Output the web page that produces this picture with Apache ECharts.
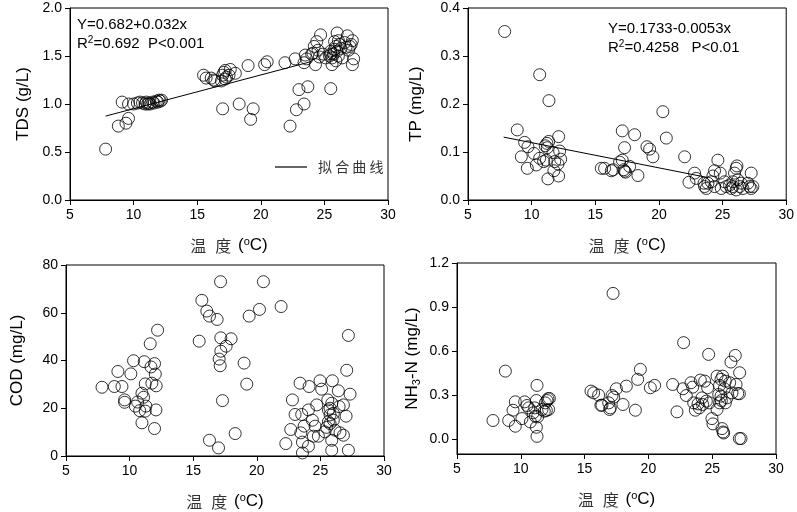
<!DOCTYPE html>
<html>
<head>
<meta charset="utf-8">
<script src="https://cdn.jsdelivr.net/npm/echarts@6/dist/echarts.min.js"></script>
<style>
  html, body { margin: 0; padding: 0; background: #fff; }
  #main { width: 797px; height: 512px; }
</style>
</head>
<body>
<div id="main"></div>
<script>
    // 温度 vs TDS (g/L)
    var tdsPoints = [
        [7.8,0.53],[8.8,0.77],[9.1,1.02],[9.4,0.80],[9.6,0.85],[9.6,1.00],[10.0,1.00],[10.3,1.01],
        [10.5,1.02],[10.7,1.01],[10.9,1.00],[11.0,1.02],[11.1,1.00],[11.2,1.01],[11.3,1.00],[11.5,1.02],
        [11.6,1.01],[11.8,1.03],[11.9,1.02],[12.0,1.04],[12.1,1.03],[12.2,1.04],
        [15.5,1.30],[15.7,1.27],[16.1,1.27],[16.3,1.25],[16.4,1.24],[16.9,1.24],[17.0,1.30],[17.1,1.33],
        [17.2,1.35],[17.2,1.26],[17.3,1.28],[17.5,1.30],[17.6,1.36],[18.0,1.32],[17.0,0.95],[18.3,1.00],
        [19.0,1.40],[19.2,0.84],[19.4,0.95],[20.3,1.41],[20.5,1.44],[21.9,1.43],[22.3,0.77],[22.7,1.47],
        [22.8,0.94],[23.0,1.15],[23.4,1.00],[23.7,1.18],
        [23.4,1.43],[23.5,1.51],[23.6,1.47],[24.0,1.52],[24.1,1.53],[24.2,1.60],[24.3,1.41],[24.4,1.65],
        [24.5,1.56],[24.6,1.49],[24.7,1.72],[24.9,1.52],[25.1,1.48],[25.5,1.16],
        [25.4,1.50],[25.5,1.55],[25.5,1.52],[25.6,1.41],[25.6,1.48],[25.7,1.52],[25.8,1.57],[25.8,1.65],
        [25.9,1.60],[25.9,1.45],[26.0,1.74],[26.0,1.55],[26.1,1.50],[26.1,1.66],[26.2,1.62],[26.3,1.58],
        [26.4,1.48],[26.6,1.64],[26.7,1.59],[26.8,1.71],[26.9,1.56],[27.0,1.60],[27.1,1.62],[27.2,1.66],
        [27.2,1.41],[27.3,1.47]
    ];
    var tdsFit = [[7.8,0.874],[24.0,1.443]];

    // 温度 vs TP (mg/L)
    var tpPoints = [
        [7.88,0.351],[8.87,0.146],[9.45,0.120],[9.19,0.090],[9.71,0.111],[9.66,0.066],[10.18,0.097],[10.37,0.073],
        [10.63,0.261],[10.63,0.087],[10.94,0.080],[11.07,0.113],[11.23,0.109],[11.34,0.122],[11.36,0.207],[11.28,0.044],
        [11.15,0.083],[11.68,0.099],[11.81,0.080],[11.75,0.061],[12.12,0.132],[12.2,0.102],[12.12,0.050],[12.28,0.085],
        [12.07,0.075],[11.2,0.118],
        [15.47,0.066],[15.73,0.066],[16.26,0.061],[16.41,0.063],[17.12,0.144],[17.30,0.109],[16.91,0.079],[17.12,0.083],
        [17.23,0.063],[17.38,0.058],[17.70,0.070],[17.3,0.060],[18.09,0.136],[18.35,0.051],[19.06,0.111],[19.27,0.106],
        [19.53,0.090],[20.31,0.184],[20.58,0.129],[22.02,0.090],[22.36,0.037],[22.80,0.056],[22.93,0.045],
        [23.59,0.028],[23.72,0.024],[23.85,0.035],[24.37,0.061],[24.24,0.050],[24.11,0.038],[24.63,0.083],[24.37,0.028],
        [24.82,0.056],[24.9,0.024],[25.16,0.038],[25.55,0.031],[25.68,0.024],[25.81,0.038],[25.94,0.056],[26.07,0.066],
        [26.13,0.071],[26.07,0.021],[26.34,0.028],[26.47,0.035],[26.6,0.024],[26.99,0.035],[27.12,0.028],[27.25,0.056],
        [27.25,0.024],[27.38,0.028],[23.54,0.035],[25.29,0.028],[25.81,0.028],[26.2,0.042]
    ];
    var tpFit = [[7.8,0.131],[23.8,0.047]];

    // 温度 vs COD (mg/L)
    var codPoints = [
        [7.83,28.8],[8.80,29.1],[9.08,35.4],[9.40,29.1],[9.61,23.5],[9.61,22.5],[10.10,34.4],[10.31,39.9],
        [10.45,20.9],[10.63,22.6],[10.79,19.0],[10.97,26.3],[10.97,13.9],[11.10,24.6],[11.15,39.5],[11.23,30.2],
        [11.28,20.9],[11.23,18.8],[11.62,47.0],[11.68,37.3],[11.75,30.5],[11.96,38.7],[12.02,34.3],[12.09,29.4],
        [12.07,19.3],[11.96,11.5],[12.2,52.7],
        [15.47,48.1],[15.68,65.2],[16.07,60.7],[16.28,58.6],[16.88,57.2],[16.28,6.6],[16.99,3.4],[17.15,73.0],
        [17.17,49.5],[17.17,43.9],[17.04,40.6],[17.12,37.8],[17.30,23.2],[17.59,46.0],[17.98,49.1],[18.30,9.4],
        [19.0,38.9],[19.21,30.1],[19.40,58.6],[20.21,61.4],[20.52,73.0],[21.91,62.6],
        [22.28,5.2],[22.67,11.1],[22.80,23.5],[23.01,17.4],[23.40,30.5],[23.46,9.7],[23.53,17.4],[23.59,5.8],
        [23.59,1.3],[23.72,12.5],[24.06,4.1],[24.06,19.3],[24.11,29.1],[24.37,15.0],[24.45,8.3],[24.58,12.5],
        [24.71,21.4],[24.84,8.3],[24.97,31.5],[25.10,28.0],[25.36,10.1],[25.50,12.0],[25.58,23.5],[25.63,19.3],
        [25.76,17.2],[25.76,20.0],[25.76,13.6],[25.89,2.4],[25.89,6.6],[25.94,31.5],[26.02,17.9],[26.02,15.0],
        [26.15,10.8],[26.41,27.3],[26.47,20.7],[26.54,9.7],[26.81,21.4],[26.81,8.7],[27.02,16.7],[27.07,35.9],
        [27.2,50.5],[27.2,2.4],[27.33,25.9],[25.63,14.3],[25.89,22.1]
    ];

    // 温度 vs NH3-N (mg/L)
    var nhPoints = [
        [7.82,0.128],[8.79,0.464],[9.05,0.128],[9.39,0.198],[9.57,0.255],[9.57,0.089],[10.09,0.141],[10.30,0.255],
        [10.49,0.230],[10.62,0.214],[10.75,0.118],[10.96,0.180],[11.09,0.214],[11.14,0.157],[11.22,0.264],[11.27,0.367],
        [11.22,0.082],[11.27,0.020],[11.32,0.153],[11.66,0.203],[11.92,0.248],[12.0,0.196],[12.13,0.276],[12.05,0.264],
        [12.18,0.203],[12.24,0.278],[11.84,0.191],
        [15.50,0.328],[15.71,0.316],[16.10,0.301],[16.28,0.232],[16.36,0.232],[16.89,0.248],[16.96,0.203],[17.02,0.214],
        [17.15,0.298],[17.23,0.993],[17.28,0.287],[17.49,0.344],[18.01,0.237],[18.27,0.362],[18.98,0.198],[19.16,0.408],
        [19.37,0.476],[20.15,0.351],[20.49,0.367],
        [21.90,0.373],[22.24,0.187],[22.71,0.344],[22.76,0.658],[22.97,0.298],[23.34,0.385],[23.47,0.355],[23.55,0.248],
        [23.68,0.198],[23.89,0.241],[23.99,0.214],[24.07,0.403],[24.2,0.282],[24.25,0.237],[24.41,0.396],[24.54,0.260],
        [24.64,0.351],[24.72,0.578],[24.78,0.248],[24.98,0.141],[25.06,0.105],[25.38,0.203],[25.51,0.305],[25.58,0.367],
        [25.58,0.248],[25.69,0.408],[25.72,0.264],[25.77,0.073],[25.82,0.430],[25.85,0.050],[25.90,0.043],[25.95,0.344],
        [26.03,0.248],[26.03,0.396],[26.16,0.282],[26.37,0.385],[26.47,0.526],[26.55,0.316],[26.81,0.571],[26.87,0.373],
        [27.00,0.312],[27.13,0.310],[27.15,0.453],[27.13,0.005],[27.26,0.005],[25.38,0.430],[25.69,0.294]
    ];

    var nhTicks = [0, 0.3, 0.6, 0.9, 1.2];

    var numFont = 'Liberation Sans, Arial, sans-serif';
    var cnFont = 'Noto Sans CJK SC, sans-serif';

    var chart = echarts.init(document.getElementById('main'));

    // 网格位置
    var grids = [
        { left: 70, top: 8, width: 318, height: 192 },
        { left: 468, top: 8, width: 319, height: 192 },
        { left: 66, top: 265, width: 318, height: 191 },
        { left: 457, top: 263, width: 319, height: 191 }
    ];
    grids.forEach(function (g) {
        g.show = true;
        g.borderColor = '#000';
        g.borderWidth = 1;
        g.backgroundColor = 'transparent';
        g.containLabel = false;
    });

    var xName = '{cn1|温}{cn|度} ({sup|o}C)';
    var nameRich = {
        cn1: { fontFamily: cnFont, fontSize: 16, color: '#333', padding: [0, 9, 0, 0] },
        cn: { fontFamily: cnFont, fontSize: 16, color: '#333', padding: [0, 2, 0, 0] },
        sup: { fontFamily: numFont, fontSize: 11, verticalAlign: 'top', padding: [0, 0, 8, 0], color: '#000' },
        sub: { fontFamily: numFont, fontSize: 11, padding: [9, 0, 0, 0], color: '#000' }
    };

    function makeX(i) {
        return {
            type: 'value', gridIndex: i, min: 5, max: 30, interval: 5,
            name: xName, nameLocation: 'middle', nameGap: 36,
            nameTextStyle: { fontFamily: numFont, fontSize: 17, color: '#000', rich: nameRich },
            axisLine: { onZero: false, lineStyle: { color: '#000', width: 1 } },
            axisTick: { show: true, length: 5, lineStyle: { color: '#000' } },
            axisLabel: { fontFamily: numFont, fontSize: 14, color: '#000', margin: 8 },
            splitLine: { show: false }
        };
    }

    function makeY(i, min, max, interval, name, gap) {
        return {
            type: 'value', gridIndex: i, min: min, max: max, interval: interval,
            name: name, nameLocation: 'middle', nameRotate: 90, nameGap: gap,
            nameTextStyle: { fontFamily: numFont, fontSize: 17, color: '#000', rich: nameRich },
            axisLine: { show: true, onZero: false, lineStyle: { color: '#000', width: 1 } },
            axisTick: { show: true, length: 5, lineStyle: { color: '#000' } },
            axisLabel: {
                fontFamily: numFont, fontSize: 14, color: '#000', margin: 8,
                formatter: function (v) { return interval < 1 ? v.toFixed(1) : String(v); }
            },
            splitLine: { show: false }
        };
    }

    var yNh = makeY(3, -0.1, 1.2, 0.1, 'NH{sub|3}-N (mg/L)', 35);
    yNh.axisLabel.customValues = nhTicks;
    yNh.axisTick.customValues = nhTicks;

    function scatter(i, data) {
        return {
            type: 'scatter', xAxisIndex: i, yAxisIndex: i, data: data,
            symbol: 'circle', symbolSize: 12,
            itemStyle: { color: 'rgba(0,0,0,0)', borderColor: '#000', borderWidth: 1 },
            silent: true
        };
    }

    function fitLine(i, data, name) {
        return {
            type: 'line', name: name, xAxisIndex: i, yAxisIndex: i, data: data,
            symbol: 'none', lineStyle: { color: '#000', width: 1 }, itemStyle: { color: '#000' },
            silent: true, z: 1
        };
    }

    var option = {
        animation: false,
        backgroundColor: '#fff',
        grid: grids,
        xAxis: [makeX(0), makeX(1), makeX(2), makeX(3)],
        yAxis: [
            makeY(0, 0, 2, 0.5, 'TDS (g/L)', 38),
            makeY(1, 0, 0.4, 0.1, 'TP (mg/L)', 43),
            makeY(2, 0, 80, 20, 'COD (mg/L)', 40),
            yNh
        ],
        legend: {
            data: [{ name: '拟合曲线', icon: 'rect' }],
            left: 270, top: 155,
            itemWidth: 32, itemHeight: 1.2,
            itemStyle: { color: '#000' },
            textStyle: { fontFamily: cnFont, fontSize: 14, color: '#333', padding: [0, 0, 0, 6] },
            formatter: function () { return '拟 合 曲 线'; },
            selectedMode: false
        },
        graphic: [
            { type: 'text', left: 77, top: 17, style: { text: 'Y=0.682+0.032x', font: '15px Liberation Sans', fill: '#000' } },
            { type: 'text', left: 77, top: 35, style: {
                text: 'R{s|2}=0.692  P<0.001', font: '15px Liberation Sans', fill: '#000',
                rich: { s: { fontSize: 10, verticalAlign: 'top', padding: [0, 0, 7, 0], fontFamily: 'Liberation Sans' } }
            } },
            { type: 'text', left: 608, top: 21, style: { text: 'Y=0.1733-0.0053x', font: '15px Liberation Sans', fill: '#000' } },
            { type: 'text', left: 608, top: 39, style: {
                text: 'R{s|2}=0.4258   P<0.01', font: '15px Liberation Sans', fill: '#000',
                rich: { s: { fontSize: 10, verticalAlign: 'top', padding: [0, 0, 7, 0], fontFamily: 'Liberation Sans' } }
            } }
        ],
        series: [
            scatter(0, tdsPoints),
            fitLine(0, tdsFit, '拟合曲线'),
            scatter(1, tpPoints),
            fitLine(1, tpFit, 'TP拟合'),
            scatter(2, codPoints),
            scatter(3, nhPoints)
        ]
    };
    chart.setOption(option);
</script>
</body>
</html>
